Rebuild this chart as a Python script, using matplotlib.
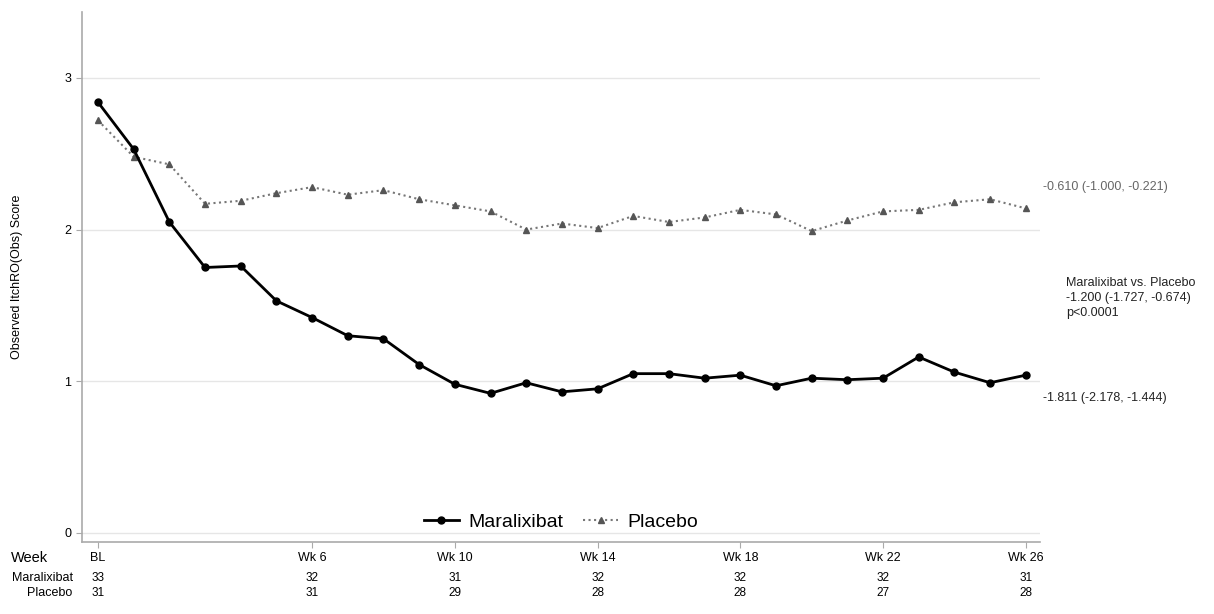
import matplotlib.pyplot as plt

plt.rcParams['font.family'] = ['Liberation Sans', 'DejaVu Sans']

weeks = list(range(27))
maralixibat = [2.84, 2.53, 2.05, 1.75, 1.76, 1.53, 1.42, 1.30, 1.28, 1.11, 0.98,
               0.92, 0.99, 0.93, 0.95, 1.05, 1.05, 1.02, 1.04, 0.97, 1.02, 1.01,
               1.02, 1.16, 1.06, 0.99, 1.04]
placebo = [2.72, 2.48, 2.43, 2.17, 2.19, 2.24, 2.28, 2.23, 2.26, 2.20, 2.16,
           2.12, 2.00, 2.04, 2.01, 2.09, 2.05, 2.08, 2.13, 2.10, 1.99, 2.06,
           2.12, 2.13, 2.18, 2.20, 2.14]

tick_weeks = [0, 6, 10, 14, 18, 22, 26]
tick_labels = ['BL', 'Wk 6', 'Wk 10', 'Wk 14', 'Wk 18', 'Wk 22', 'Wk 26']
n_maralixibat = [33, 32, 31, 32, 32, 32, 31]
n_placebo = [31, 31, 29, 28, 28, 27, 28]

mar_est = '-1.811 (-2.178, -1.444)'
pla_est = '-0.610 (-1.000, -0.221)'
diff_text = 'Maralixibat vs. Placebo\n-1.200 (-1.727, -0.674)\np<0.0001'

fig = plt.figure(figsize=(12.14, 6.14), dpi=100)
ax = fig.add_axes([0.0675, 0.1173, 0.7895, 0.8632])

ax.plot(weeks, maralixibat, color='black', lw=2, marker='o', ms=5,
        label='Maralixibat', zorder=4)
ax.plot(weeks, placebo, color='#777777', lw=1.5, ls=':', marker='^', ms=5,
        mfc='#555555', mec='#555555', label='Placebo', zorder=3)

ax.set_xlim(-0.45, 26.41)
ax.set_ylim(-0.06, 3.435)
ax.set_yticks([0, 1, 2, 3])
ax.set_xticks(tick_weeks)
ax.set_xticklabels(tick_labels)
ax.grid(axis='y', color='#e6e6e6', lw=1)
ax.set_axisbelow(True)
for s in ['top', 'right']:
    ax.spines[s].set_visible(False)
for s in ['left', 'bottom']:
    ax.spines[s].set_color('#aaaaaa')
    ax.spines[s].set_linewidth(1.2)
ax.tick_params(colors='#aaaaaa', labelcolor='black', labelsize=9, length=4)
ax.set_ylabel('Observed ItchRO(Obs) Score', fontsize=9, labelpad=30)

ax.legend(loc='lower center', bbox_to_anchor=(0.5, -0.012), ncol=2, frameon=False,
          fontsize=14, handlelength=1.8, handletextpad=0.5, columnspacing=1.0)

# N at risk table under the axis
fig.text(48 / 1214, 1 - 558 / 614, 'Week', ha='right', va='center', fontsize=10.5)
fig.text(73 / 1214, 1 - 578 / 614, 'Maralixibat', ha='right', va='center', fontsize=9)
fig.text(72 / 1214, 1 - 593 / 614, 'Placebo', ha='right', va='center', fontsize=9)
for w, nm, npl in zip(tick_weeks, n_maralixibat, n_placebo):
    xpix = ax.transData.transform((w, 0))[0]
    fig.text(xpix / 1214, 1 - 578 / 614, str(nm),
             ha='center', va='center', fontsize=8.5)
    fig.text(xpix / 1214, 1 - 593 / 614, str(npl),
             ha='center', va='center', fontsize=8.5)

# estimates at right
fig.text(1043 / 1214, 1 - 187 / 614, pla_est, ha='left', va='center',
         fontsize=9, color='#666666')
fig.text(1066 / 1214, 1 - 298 / 614, diff_text, ha='left', va='center',
         fontsize=9, color='#222222', linespacing=1.35)
fig.text(1043 / 1214, 1 - 398 / 614, mar_est, ha='left', va='center',
         fontsize=9, color='#222222')

fig.savefig('out.png', dpi=100)
